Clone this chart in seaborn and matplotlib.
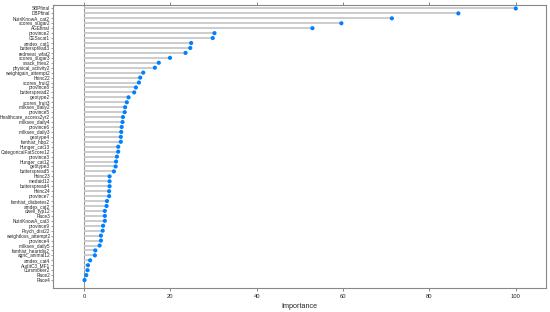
import numpy as np
import pandas as pd
import seaborn as sns
import matplotlib
matplotlib.use('Agg')
import matplotlib.pyplot as plt

# =============================================================================
# Data
# =============================================================================
features = ['SBPfinal', 'DBPfinal', 'NutriKnowA_cat2', 'scores_sugar2', 'AGEfinal',
            'province2', 'CESscat1', 'amdex_cat1', 'butterspread3', 'redmeat_wfat2',
            'scores_sugar3', 'snack_fries2', 'physical_activity2', 'weightgain_attempt2',
            'hhinc22', 'scores_fruit2', 'province8', 'butterspread2', 'geotype2',
            'scores_fruit3', 'milksev_daily2', 'province5', 'Healthcare_access2yr2',
            'milksev_daily4', 'province6', 'milksev_daily3', 'geotype4', 'famhist_hbp2',
            'Hunger_cat13', 'CategoricalFatScore12', 'province3', 'Hunger_cat12',
            'geotype3', 'butterspread5', 'hhinc23', 'medaid12', 'butterspread4',
            'hhinc24', 'province7', 'famhist_diabetes2', 'amdex_cat2', 'dwell_typ12',
            'Race3', 'NutriKnowA_cat3', 'province9', 'Psych_dist22',
            'weightloss_attempt2', 'province4', 'milksev_daily5', 'famhist_heartdis2',
            'agric_animal12', 'amdex_cat4', 'AuditC3_MF1', 'Cursmoker2', 'Race2', 'Race4']
importance = [100.0, 86.7, 71.3, 59.6, 52.9,
              30.2, 29.8, 24.8, 24.6, 23.5,
              19.9, 17.3, 16.4, 13.7,
              13.0, 12.7, 12.0, 11.6, 10.3,
              9.9, 9.5, 9.4, 9.0,
              8.9, 8.7, 8.6, 8.5, 8.5,
              7.9, 7.9, 7.6, 7.4,
              7.3, 6.9, 5.9, 5.9, 5.9,
              5.8, 5.8, 5.3, 5.2, 4.8,
              4.8, 4.8, 4.4, 4.3,
              3.9, 3.9, 3.6, 2.6,
              2.5, 1.4, 0.9, 0.8, 0.5, 0.1]
xticks = [0, 20, 40, 60, 80, 100]

df = pd.DataFrame({'feature': features, 'importance': importance})
df['pos'] = np.arange(len(df))

# =============================================================================
# Plot
# =============================================================================
sns.set_style('white')
plt.rcParams['font.family'] = ['Liberation Sans', 'DejaVu Sans']
fig = plt.figure(figsize=(5.5, 3.12), dpi=100)
ax = fig.add_axes([0.0964, 0.077, 0.8963, 0.907])

ax.axvline(0, color='#999999', lw=0.8, zorder=1)
ax.hlines(df.pos, 0, df.importance, color='#c8c8c8', lw=1.3, zorder=2)
sns.scatterplot(data=df, x='importance', y='pos', color='#0080ff', s=9,
                edgecolor='none', ax=ax, zorder=3, legend=False)

ax.set_xlim(-7.2, 107)
ax.set_ylim(56.6, -0.7)
ax.set_yticks(df.pos)
ax.set_yticklabels(df.feature, fontsize=3.4)
ax.set_xticks(xticks)
ax.set_xticklabels([str(t) for t in xticks], fontsize=4.2)
ax.tick_params(axis='x', top=True, labeltop=False, bottom=True, length=2,
               width=0.5, color='#555555', pad=2)
ax.tick_params(axis='y', left=True, length=1.2, width=0.4, color='#555555', pad=1)
ax.set_xlabel('Importance', fontsize=5.2, labelpad=3)
ax.set_ylabel('')
for s in ax.spines.values():
    s.set_color('#888888')
    s.set_linewidth(0.8)

plt.savefig('out.png', dpi=100)
